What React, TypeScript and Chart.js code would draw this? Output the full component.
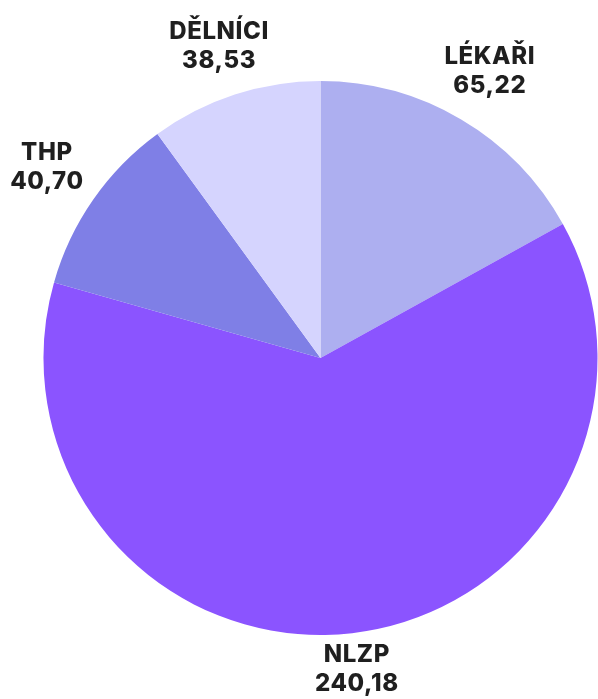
import React, { useEffect, useRef } from "react";
import { Chart, registerables } from "chart.js";

Chart.register(...registerables);

const categories = ["LÉKAŘI", "NLZP", "THP", "DĚLNÍCI"];
const values = [65.22, 240.18, 40.7, 38.53];
const colors = ["#ADAFF0", "#8B54FF", "#7F7FE6", "#D5D4FE"];

const FONT = "800 24px Inter, 'DejaVu Sans', sans-serif";
const LINE_H = 29;
const LABEL_OFFSET = 13;

const outsideLabels = {
  id: "outsideLabels",
  afterDraw(chart: any) {
    const ctx = chart.ctx as CanvasRenderingContext2D;
    const meta = chart.getDatasetMeta(0);
    const data = chart.data.datasets[0].data as number[];
    const labels = chart.data.labels as string[];
    ctx.save();
    ctx.font = FONT;
    (ctx as any).letterSpacing = "0.6px";
    ctx.fillStyle = "#1f1f1f";
    ctx.textAlign = "center";
    ctx.textBaseline = "middle";
    meta.data.forEach((arc: any, i: number) => {
      const p = arc.getProps(["x", "y", "startAngle", "endAngle", "outerRadius"], true);
      const mid = (p.startAngle + p.endAngle) / 2;
      const vx = Math.cos(mid);
      const vy = Math.sin(mid);
      const line1 = labels[i];
      const line2 = data[i].toFixed(2).replace(".", ",");
      const w = Math.max(ctx.measureText(line1).width, ctx.measureText(line2).width);
      const h = 47;
      const ext = (h / 2) * Math.abs(vy) + (w / 2) * Math.abs(vx);
      const d = p.outerRadius + LABEL_OFFSET + ext;
      const cx = p.x + vx * d;
      let cy = p.y + vy * d;
      const maxBottom = chart.height - 3;
      if (cy + LINE_H / 2 + 12 > maxBottom) cy = maxBottom - LINE_H / 2 - 12;
      ctx.fillText(line1, cx, cy - LINE_H / 2);
      ctx.fillText(line2, cx, cy + LINE_H / 2);
    });
    ctx.restore();
  },
};

export default function App() {
  const ref = useRef<HTMLCanvasElement | null>(null);
  useEffect(() => {
    document.body.style.margin = "0";
    const canvas = ref.current!;
    const chart = new Chart(canvas, {
      type: "pie",
      data: {
        labels: categories,
        datasets: [
          {
            data: values,
            backgroundColor: colors,
            borderWidth: 0,
          },
        ],
      },
      options: {
        animation: false,
        responsive: false,
        maintainAspectRatio: false,
        layout: { padding: { left: 43.5, right: 0.5, top: 81, bottom: 64 } },
        plugins: {
          legend: { display: false },
          tooltip: { enabled: false },
        },
      },
      plugins: [outsideLabels],
    });
    return () => chart.destroy();
  }, []);
  return (
    <div style={{ width: 598, height: 699 }}>
      <canvas ref={ref} width={598} height={699} style={{ display: "block", width: 598, height: 699 }} />
    </div>
  );
}
